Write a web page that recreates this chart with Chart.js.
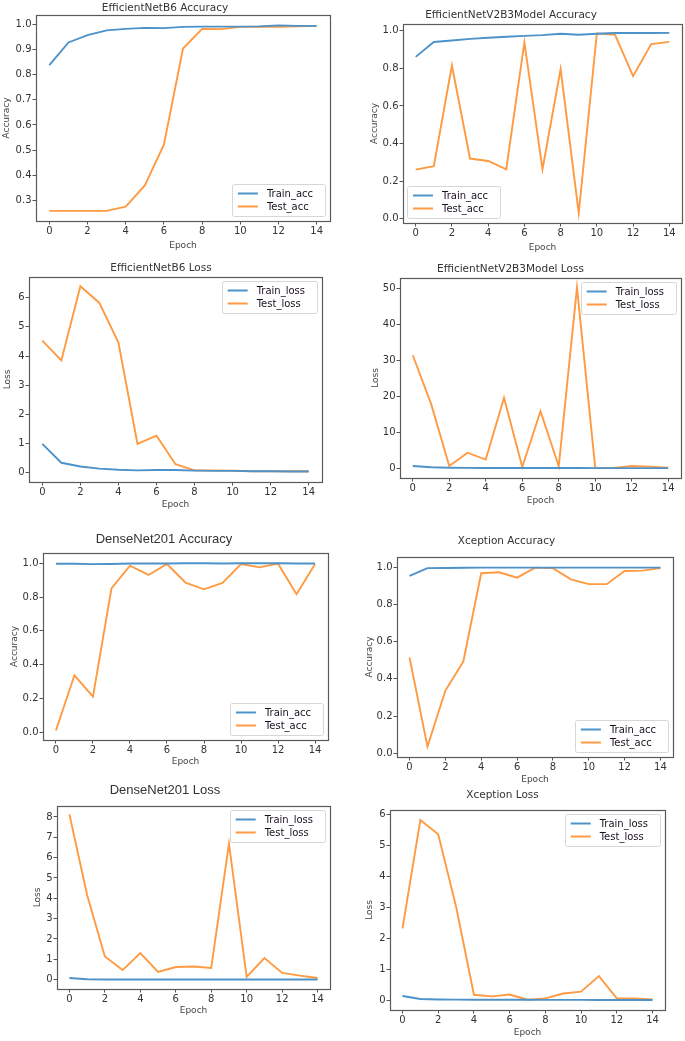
<!DOCTYPE html>
<html>
<head>
<meta charset="utf-8">
<script src="https://cdn.jsdelivr.net/npm/chart.js@4"></script>
<style>
  body { margin: 0; background: #fff; }
  #wrap { position: relative; width: 685px; height: 1041px; overflow: hidden; background: #fff; }
  #wrap canvas { position: absolute; }
</style>
</head>
<body>
<div id="wrap"></div>
<script>
// epochs + tick labels
const epochs = [0, 1, 2, 3, 4, 5, 6, 7, 8, 9, 10, 11, 12, 13, 14]
const xTicks = [0, 2, 4, 6, 8, 10, 12, 14]
const accNames = ['Train_acc', 'Test_acc']
const lossNames = ['Train_loss', 'Test_loss']

// EfficientNetB6
const b6TrainAcc = [0.837, 0.927, 0.956, 0.975, 0.981, 0.985, 0.984, 0.989, 0.990, 0.990, 0.990, 0.991, 0.995, 0.993, 0.993]
const b6TestAcc = [0.259, 0.259, 0.259, 0.259, 0.276, 0.360, 0.522, 0.903, 0.981, 0.980, 0.989, 0.990, 0.989, 0.991, 0.993]
const b6TrainLoss = [0.99, 0.34, 0.21, 0.14, 0.10, 0.08, 0.09, 0.09, 0.07, 0.06, 0.06, 0.05, 0.05, 0.04, 0.04]
const b6TestLoss = [4.53, 3.85, 6.39, 5.82, 4.46, 0.99, 1.27, 0.29, 0.08, 0.08, 0.07, 0.05, 0.05, 0.05, 0.05]

// EfficientNetV2B3Model
const v2TrainAcc = [0.861, 0.940, 0.948, 0.957, 0.963, 0.968, 0.973, 0.977, 0.984, 0.979, 0.984, 0.988, 0.988, 0.988, 0.989]
const v2TestAcc = [0.261, 0.279, 0.815, 0.320, 0.307, 0.263, 0.938, 0.263, 0.796, 0.030, 0.986, 0.979, 0.758, 0.929, 0.941]
const v2TrainLoss = [0.74, 0.37, 0.25, 0.20, 0.18, 0.17, 0.16, 0.15, 0.15, 0.15, 0.14, 0.14, 0.13, 0.13, 0.13]
const v2TestLoss = [31.4, 18.0, 0.74, 4.4, 2.5, 19.6, 0.46, 15.9, 0.65, 50.2, 0.18, 0.20, 0.74, 0.55, 0.28]

// DenseNet201
const dnTrainAcc = [0.997, 0.997, 0.995, 0.996, 0.999, 0.999, 0.999, 1.0, 1.0, 0.999, 1.0, 1.0, 1.0, 0.999, 0.999]
const dnTestAcc = [0.010, 0.337, 0.211, 0.852, 0.986, 0.931, 0.996, 0.886, 0.846, 0.884, 0.996, 0.976, 0.998, 0.817, 0.996]
const dnTrainLoss = [0.08, 0.02, 0.01, 0.01, 0.01, 0.01, 0.01, 0.01, 0.01, 0.01, 0.01, 0.01, 0.01, 0.01, 0.01]
const dnTestLoss = [8.13, 4.16, 1.14, 0.47, 1.31, 0.38, 0.62, 0.65, 0.57, 6.69, 0.13, 1.06, 0.33, 0.20, 0.08]

// Xception
const xcTrainAcc = [0.953, 0.995, 0.996, 0.997, 0.998, 0.998, 0.998, 0.998, 0.998, 0.998, 0.998, 0.998, 0.998, 0.998, 0.998]
const xcTestAcc = [0.514, 0.036, 0.337, 0.493, 0.968, 0.973, 0.944, 0.998, 0.995, 0.935, 0.909, 0.909, 0.980, 0.982, 0.995]
const xcTrainLoss = [0.15, 0.054, 0.04, 0.035, 0.03, 0.03, 0.03, 0.03, 0.025, 0.025, 0.025, 0.02, 0.02, 0.02, 0.02]
const xcTestLoss = [2.33, 5.82, 5.36, 3.03, 0.19, 0.14, 0.20, 0.03, 0.075, 0.23, 0.29, 0.79, 0.075, 0.075, 0.04]

// y tick labels
const accTicksB6 = [0.3, 0.4, 0.5, 0.6, 0.7, 0.8, 0.9, 1.0]
const accTicks = [0.0, 0.2, 0.4, 0.6, 0.8, 1.0]
const lossTicks6 = [0, 1, 2, 3, 4, 5, 6]
const lossTicks50 = [0, 10, 20, 30, 40, 50]
const lossTicks8 = [0, 1, 2, 3, 4, 5, 6, 7, 8]

const BLUE = '#4d92c9'
const ORANGE = '#ff9a42'
const DEJAVU = 'DejaVu Sans'
const LIB = 'Liberation Sans'

// layout of the 8 subplots (plot box l,t,r,b in page px)
const panels = [
  { title: 'EfficientNetB6 Accuracy', yLabel: 'Accuracy', names: accNames, train: b6TrainAcc, test: b6TestAcc,
    yTicks: accTicksB6, dec: 1, yMin: 0.219, yMax: 1.036, col: 0, box: [36, 15, 330, 221],
    titleY: 8.3, titleFont: DEJAVU, titleSize: 10.5, yTitleX: 6.7, epochY: 245.7, legend: 'lower right' },
  { title: 'EfficientNetV2B3Model Accuracy', yLabel: 'Accuracy', names: accNames, train: v2TrainAcc, test: v2TestAcc,
    yTicks: accTicks, dec: 1, yMin: -0.023, yMax: 1.036, col: 1, box: [403, 24, 682, 223],
    titleY: 15, titleFont: DEJAVU, titleSize: 10.5, yTitleX: 375, epochY: 247.3, legend: 'lower left' },
  { title: 'EfficientNetB6 Loss', yLabel: 'Loss', names: lossNames, train: b6TrainLoss, test: b6TestLoss,
    yTicks: lossTicks6, dec: 0, yMin: -0.32, yMax: 6.71, col: 0, box: [29, 277, 322, 482],
    titleY: 268.3, titleFont: DEJAVU, titleSize: 10.5, yTitleX: 7.3, epochY: 505, legend: 'upper right' },
  { title: 'EfficientNetV2B3Model Loss', yLabel: 'Loss', names: lossNames, train: v2TrainLoss, test: v2TestLoss,
    yTicks: lossTicks50, dec: 0, yMin: -2.6, yMax: 52.8, col: 1, box: [400, 278, 681, 478],
    titleY: 269, titleFont: DEJAVU, titleSize: 10.5, yTitleX: 376, epochY: 501, legend: 'upper right' },
  { title: 'DenseNet201 Accuracy', yLabel: 'Accuracy', names: accNames, train: dnTrainAcc, test: dnTestAcc,
    yTicks: accTicks, dec: 1, yMin: -0.046, yMax: 1.061, col: 0, box: [43, 553, 328, 740],
    titleY: 539, titleFont: LIB, titleSize: 13, yTitleX: 15, epochY: 761.7, legend: 'lower right' },
  { title: 'Xception Accuracy', yLabel: 'Accuracy', names: accNames, train: xcTrainAcc, test: xcTestAcc,
    yTicks: accTicks, dec: 1, yMin: -0.02, yMax: 1.055, col: 1, box: [397, 557, 673, 757],
    titleY: 541.7, titleFont: DEJAVU, titleSize: 10.5, yTitleX: 369.3, epochY: 780, legend: 'lower right' },
  { title: 'DenseNet201 Loss', yLabel: 'Loss', names: lossNames, train: dnTrainLoss, test: dnTestLoss,
    yTicks: lossTicks8, dec: 0, yMin: -0.46, yMax: 8.54, col: 0, box: [57, 806, 330, 989],
    titleY: 790, titleFont: LIB, titleSize: 13, yTitleX: 37.3, epochY: 1011, legend: 'upper right' },
  { title: 'Xception Loss', yLabel: 'Loss', names: lossNames, train: xcTrainLoss, test: xcTestLoss,
    yTicks: lossTicks6, dec: 0, yMin: -0.30, yMax: 6.14, col: 1, box: [390, 810, 665, 1010],
    titleY: 795.7, titleFont: DEJAVU, titleSize: 10.5, yTitleX: 370, epochY: 1032.7, legend: 'upper right' }
]

// matplotlib-like axes frame
const frame = {
  id: 'frame',
  afterDatasetsDraw(chart) {
    const { ctx, chartArea: a } = chart
    ctx.save()
    ctx.strokeStyle = '#5a5a5a'
    ctx.lineWidth = 1.2
    ctx.strokeRect(Math.round(a.left) + 0.5, Math.round(a.top) + 0.5,
      Math.round(a.right - a.left), Math.round(a.bottom - a.top))
    ctx.restore()
  }
}

// legend box drawn inside the axes, like matplotlib
const boxLegend = {
  id: 'boxLegend',
  afterDraw(chart, args, opts) {
    const { ctx, chartArea: a } = chart
    const sets = chart.data.datasets
    ctx.save()
    ctx.font = '10px "DejaVu Sans"'
    const tw = Math.max(...sets.map(d => ctx.measureText(d.label).width))
    const w = 6 + 20 + 9 + tw + 12
    const h = 6 + sets.length * 13
    const x = opts.loc.includes('right') ? a.right - 5 - w : a.left + 4
    const y = opts.loc.includes('upper') ? a.top + 4 : a.bottom - 5 - h
    ctx.fillStyle = 'rgba(255,255,255,0.85)'
    ctx.strokeStyle = '#d6d6d6'
    ctx.lineWidth = 1
    ctx.beginPath()
    ctx.roundRect(Math.round(x) + 0.5, Math.round(y) + 0.5, Math.round(w), Math.round(h), 2)
    ctx.fill()
    ctx.stroke()
    sets.forEach((d, i) => {
      const cy = y + 3 + 6.5 + i * 13
      ctx.strokeStyle = d.borderColor
      ctx.lineWidth = 2
      ctx.beginPath()
      ctx.moveTo(x + 6, cy)
      ctx.lineTo(x + 26, cy)
      ctx.stroke()
      ctx.fillStyle = '#1a1020'
      ctx.textBaseline = 'middle'
      ctx.fillText(d.label, x + 35, cy + 0.5)
    })
    ctx.restore()
  }
}

function makeChart(p) {
  const colL = p.col ? 340 : 0
  const colR = p.col ? 685 : 340
  const [l, t, r, b] = p.box
  const tf = p.titleSize
  const gap = t - p.titleY
  const titleH = 2 + 1.2 * tf + (gap - 0.6 * tf)
  const xH = p.epochY - b + 5.4 + 2
  const top = Math.floor(t - titleH)
  const bottom = Math.ceil(b + xH)

  const canvas = document.createElement('canvas')
  canvas.width = colR - colL
  canvas.height = bottom - top
  canvas.style.left = colL + 'px'
  canvas.style.top = top + 'px'
  document.getElementById('wrap').appendChild(canvas)

  const tickFont = { family: DEJAVU, size: 10 }
  const labelFont = { family: DEJAVU, size: 9, lineHeight: 1.2 }

  new Chart(canvas.getContext('2d'), {
    type: 'line',
    data: {
      datasets: [
        { label: p.names[0], data: epochs.map((e, i) => ({ x: e, y: p.train[i] })), borderColor: BLUE },
        { label: p.names[1], data: epochs.map((e, i) => ({ x: e, y: p.test[i] })), borderColor: ORANGE }
      ]
    },
    options: {
      responsive: false,
      animation: false,
      events: [],
      elements: {
        point: { radius: 0 },
        line: { borderWidth: 1.9, tension: 0, fill: false }
      },
      layout: { padding: { top: (t - titleH) - top, bottom: bottom - (b + xH), left: 0, right: colR - r } },
      plugins: {
        legend: { display: false },
        tooltip: { enabled: false },
        title: {
          display: true,
          text: p.title,
          color: '#333',
          font: { family: p.titleFont, size: tf, weight: 'normal', lineHeight: 1.2 },
          padding: { top: 2, bottom: gap - 0.6 * tf }
        },
        boxLegend: { loc: p.legend }
      },
      scales: {
        x: {
          type: 'linear',
          min: -0.7,
          max: 14.7,
          afterBuildTicks: s => { s.ticks = xTicks.map(v => ({ value: v })) },
          afterFit: s => { s.height = xH },
          grid: { drawOnChartArea: false, tickLength: 3.5, color: '#555' },
          border: { display: false },
          ticks: { padding: 1, maxRotation: 0, autoSkip: false, color: '#333', font: tickFont, callback: v => String(v) },
          title: { display: true, text: 'Epoch', color: '#444', font: labelFont, padding: { top: 0, bottom: 2 } }
        },
        y: {
          min: p.yMin,
          max: p.yMax,
          afterBuildTicks: s => { s.ticks = p.yTicks.map(v => ({ value: v })) },
          afterFit: s => { s.width = l - colL },
          grid: { drawOnChartArea: false, tickLength: 3.5, color: '#555' },
          border: { display: false },
          ticks: { padding: 1, autoSkip: false, color: '#333', font: tickFont, callback: v => v.toFixed(p.dec) },
          title: { display: true, text: p.yLabel, color: '#444', font: labelFont, padding: { top: p.yTitleX - colL - 5.4, bottom: 0 } }
        }
      }
    },
    plugins: [frame, boxLegend]
  })
}

panels.forEach(makeChart)
</script>
</body>
</html>
